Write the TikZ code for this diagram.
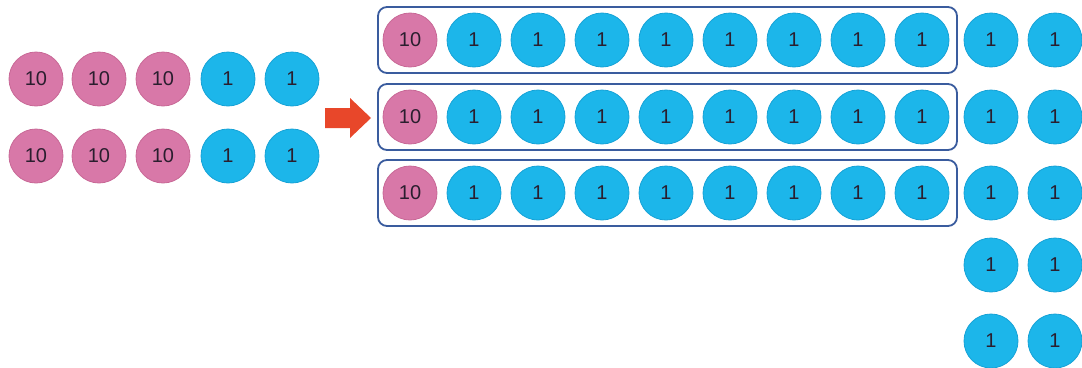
\documentclass[tikz,border=0pt]{standalone}
\usepackage{fontspec}
\setmainfont{Liberation Sans}
\usetikzlibrary{fit}
\definecolor{tenpink}{HTML}{D878A8}
\definecolor{tenedge}{HTML}{C86896}
\definecolor{oneblue}{HTML}{1CB6EA}
\definecolor{oneedge}{HTML}{16A2D6}
\definecolor{boxblue}{HTML}{3A5C9E}
\definecolor{arrowred}{HTML}{E8472A}
\definecolor{digit}{HTML}{2A1E2E}
\tikzset{
  disc/.style={circle, minimum size=54pt, inner sep=0pt, line width=0.8pt, text=digit, font=\fontsize{20}{20}\selectfont},
  tendisc/.style={disc, fill=tenpink, draw=tenedge},
  onedisc/.style={disc, fill=oneblue, draw=oneedge},
  groupbox/.style={draw=boxblue, line width=1.8pt, rounded corners=9pt, inner sep=0pt},
}
\begin{document}
\begin{tikzpicture}[x=1pt,y=-1pt]
\useasboundingbox (0,0) rectangle (1082,367);
% left group
\foreach \r/\y in {1/79,2/156}{
  \foreach \c/\x in {1/36,2/99,3/163}{
    \node[tendisc] (L\r\c) at (\x,\y) {10};
  }
  \foreach \c/\x in {4/228,5/292}{
    \node[onedisc] (L\r\c) at (\x,\y) {1};
  }
}
% arrow
\fill[arrowred] (325,108) -- (350,108) -- (350,98) -- (371,118) -- (350,138) -- (350,128) -- (325,128) -- cycle;
% grouped rows
\foreach \r/\y in {1/40,2/117,3/193}{
  \node[tendisc] (G\r1) at (410,\y) {10};
  \foreach \c in {2,...,9}{
    \node[onedisc] (G\r\c) at ({410+64*(\c-1)},\y) {1};
  }
  \node[groupbox, fit={(378,\y-33) (957,\y+33)}] (B\r) {};
}
% loose ones
\foreach \r/\y in {1/40,2/117,3/193,4/265,5/341}{
  \node[onedisc] (R\r1) at (991,\y) {1};
  \node[onedisc] (R\r2) at (1055,\y) {1};
}
\end{tikzpicture}
\end{document}
